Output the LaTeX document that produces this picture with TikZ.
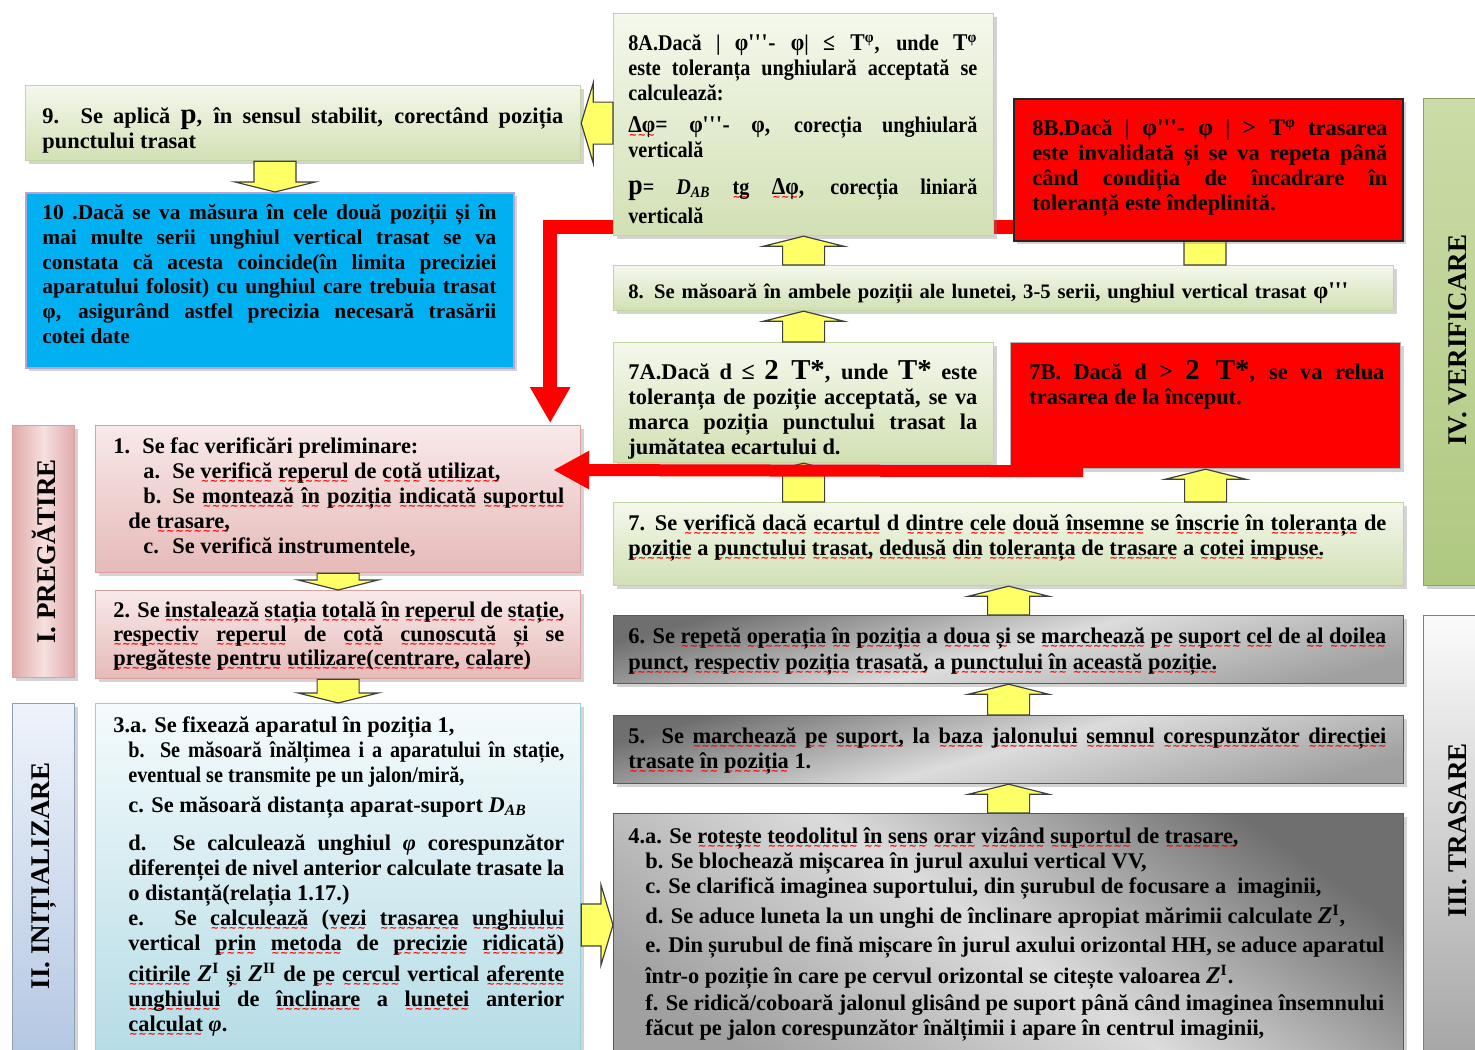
\documentclass[tikz,border=0pt]{standalone}
\usepackage{fontspec}
\setmainfont{Liberation Serif}
\newfontfamily\condf{Liberation Serif}[FakeStretch=0.9]
\newfontfamily\wavef{DejaVu Sans}
\usetikzlibrary{shadows,calc,arrows.meta}

% palette
\definecolor{grnT}{HTML}{F4F8EC}
\definecolor{grnB}{HTML}{D2E0B4}
\definecolor{grnD}{HTML}{C2D5A0}
\definecolor{pnkT}{HTML}{F8E9E9}
\definecolor{pnkB}{HTML}{E6BAB9}
\definecolor{pnkD}{HTML}{D9A2A1}
\definecolor{bluT}{HTML}{F5FBFC}
\definecolor{bluB}{HTML}{B3DBE5}
\definecolor{bluD}{HTML}{9ACEDB}
\definecolor{skyb}{HTML}{00B0F0}
\definecolor{lavd}{HTML}{B4A6D0}
\definecolor{yelw}{HTML}{FFFF66}
\definecolor{gryD}{HTML}{6F6F6F}
\definecolor{gryM}{HTML}{A0A0A0}
\definecolor{gryL}{HTML}{DCDCDC}
\definecolor{labIo}{HTML}{E0AAA9}
\definecolor{labIi}{HTML}{F6E0DF}
\definecolor{labIIt}{HTML}{EEF3FA}
\definecolor{labIIb}{HTML}{B2C6E2}
\definecolor{labIIIt}{HTML}{FBFBFB}
\definecolor{labIIIb}{HTML}{A2A2A2}
\definecolor{labIVt}{HTML}{CBDCA8}
\definecolor{labIVb}{HTML}{AFC880}

\pgfdeclareverticalshading{grayband}{100bp}{color(0bp)=(gryM); color(25bp)=(gryM); color(50bp)=(gryL); color(75bp)=(gryD); color(100bp)=(gryD)}

\pgfdeclarelayer{back}
\pgfsetlayers{back,main}

% red wavy underline under one word
\newsavebox\sqbox
\newcommand\sq[1]{\leavevmode\sbox\sqbox{#1}%
  \rlap{\lower2.8pt\hbox to\wd\sqbox{\color{red}\fontsize{5}{5}\wavef\xleaders\hbox{\char"223C}\hfil}}%
  \usebox\sqbox}
\newcommand\tp{\textquotesingle\textquotesingle\textquotesingle}
\newcommand\fl{\rule{0pt}{10pt}}
\newcommand\Zsup[1]{{\large\itshape Z}\textsuperscript{#1}}
\newcommand\DAB{{\itshape D}\textsubscript{\itshape AB}}

\tikzset{
  txt/.style={inner sep=0pt, anchor=north west, align=justify,
    font=\bfseries\fontsize{11.2}{12.5}\selectfont},
  box/.style={draw, line width=0.6pt, anchor=north west, inner sep=0pt,
    drop shadow={shadow xshift=1.6pt, shadow yshift=-1.6pt, opacity=0.35}},
  greenbox/.style={box, draw=grnD, top color=grnT, bottom color=grnB},
  pinkbox/.style={box, draw=pnkD, top color=pnkT, bottom color=pnkB},
  bluebox/.style={box, draw=bluD, top color=bluT, bottom color=bluB},
  graybox/.style={box, draw=gray!70!black, shading=grayband},
  redbox/.style={box, fill=red},
  labtxt/.style={rotate=90, inner sep=0pt, font=\bfseries\fontsize{13.5}{15}\selectfont},
  yblock/.style={fill=yelw, draw=black!75, line width=0.6pt, line join=miter},
  redline/.style={draw=red, line width=7pt, line join=miter,
    -{Triangle[length=18pt,width=19pt]}},
}

% vertical block arrow: base point, tip point
\newcommand\yav[2]{%
  \path[yblock] let \p1=#1, \p2=#2, \n1={ifthenelse(\y2>\y1,1,-1)} in
    (\x1-10.5pt,\y1) -- (\x1-10.5pt,\y2-\n1*5pt) -- (\x1-20pt,\y2-\n1*5pt)
    -- (\x1,\y2) -- (\x1+20pt,\y2-\n1*5pt) -- (\x1+10.5pt,\y2-\n1*5pt)
    -- (\x1+10.5pt,\y1) -- cycle;}
% horizontal block arrow: base point, tip point
\newcommand\yah[2]{%
  \path[yblock] let \p1=#1, \p2=#2, \n1={ifthenelse(\x2>\x1,1,-1)} in
    (\x1,\y1-10.5pt) -- (\x2-\n1*6pt,\y1-10.5pt) -- (\x2-\n1*6pt,\y1-20pt)
    -- (\x2,\y1) -- (\x2-\n1*6pt,\y1+20pt) -- (\x2-\n1*6pt,\y1+10.5pt)
    -- (\x1,\y1+10.5pt) -- cycle;}

\begin{document}
\begin{tikzpicture}[x=0.5pt,y=-0.5pt]
\useasboundingbox (0,0) rectangle (1475,1049);
\clip (0,0) rectangle (1475,1049);

% ---------- phase labels ----------
\node[box, draw=pnkD, left color=labIo, right color=labIo, middle color=labIi,
      minimum width=31pt, minimum height=126pt] (lab1) at (12,425) {};
\node[labtxt] (lab1t) at (lab1.center) {I. PREGĂTIRE};
\node[box, draw=labIIb!80!black, top color=labIIt, bottom color=labIIb,
      minimum width=31pt, minimum height=180pt] (lab2) at (12,703) {};
\node[labtxt] (lab2t) at ($(lab2.north)+(0,173)$) {II. INIȚIALIZARE};
\node[box, draw=labIVb!80!black, top color=labIVt, bottom color=labIVb,
      minimum width=30pt, minimum height=243.5pt] (lab4) at (1423,98) {};
\node[labtxt] (lab4t) at ($(lab4.north)+(4,242)$) {IV. VERIFICARE};
\node[box, draw=gray, top color=labIIIt, bottom color=labIIIb,
      minimum width=30pt, minimum height=230pt] (lab3) at (1423,615) {};
\node[labtxt] (lab3t) at ($(lab3.north)+(4,215)$) {III. TRASARE};

% ---------- left column ----------
\node[greenbox, minimum width=277.5pt, minimum height=37.5pt] (b9) at (25,85) {};
\node[txt, text width=260.5pt] (t9) at (42,103) {\fl 9. Se aplică {\Large p}, în sensul stabilit, corectând poziția\linebreak punctului trasat};

\node[box, fill=skyb, draw=lavd, line width=1pt, minimum width=244pt, minimum height=87.5pt] (b10) at (25,192) {};
\node[txt, text width=227pt, font=\bfseries\fontsize{10.7}{12.4}\selectfont] (t10) at (42,199) {\fl 10 .Dacă se va măsura în cele două poziții și în\linebreak mai multe serii unghiul vertical trasat se va\linebreak constata că acesta coincide(în limita preciziei\linebreak aparatului folosit) cu unghiul care trebuia trasat\linebreak φ, asigurând astfel precizia necesară trasării\linebreak cotei date};

\node[pinkbox, minimum width=242.5pt, minimum height=73.5pt] (b1) at (95,425) {};
\node[txt, text width=225.5pt] (t1) at (113,433) {\fl\makebox[14.5pt][l]{1.}Se fac verificări preliminare:\par
\hspace*{15pt}\makebox[14.5pt][l]{a.}Se \sq{verifică} \sq{reperul} de \sq{cotă} \sq{utilizat,}\par
{\leftskip=7.5pt\hspace*{7.5pt}\makebox[14.5pt][l]{b.}Se \sq{montează} \sq{în} \sq{poziția} \sq{indicată} \sq{suportul}\linebreak de \sq{trasare,}\par}
\hspace*{15pt}\makebox[14.5pt][l]{c.}Se verifică instrumentele,};

\node[pinkbox, minimum width=242.5pt, minimum height=44pt] (b2) at (95,590) {};
\node[txt, text width=225.5pt, font=\bfseries\fontsize{11.2}{12}\selectfont] (t2) at (113,597) {\fl 2. Se \sq{instalează} \sq{stația} \sq{totală} \sq{în} \sq{reperul} de \sq{stație,}\linebreak \sq{respectiv} \sq{reperul} de \sq{cotă} \sq{cunoscută} \sq{și} se\linebreak \sq{pregăteste} \sq{pentru} \sq{utilizare(centrare,} \sq{calare)}};

\node[bluebox, minimum width=242.5pt, minimum height=180pt] (b3) at (95,703) {};
\node[txt, text width=225.5pt] (t3) at (113,712) {\fl 3.a. Se fixează aparatul în poziția 1,\par
{\leftskip=7.5pt
{\condf b. Se măsoară înălțimea i a aparatului în stație,\linebreak eventual se transmite pe un jalon/miră,\par}
\vspace{2.5pt}c. Se măsoară distanța aparat-suport \DAB\par
\vspace{6.5pt}d. Se calculează unghiul {\itshape φ} corespunzător\linebreak diferenței de nivel anterior calculate trasate la\linebreak o distanță(relația 1.17.)\par
e. Se \sq{calculează} (\sq{vezi} \sq{trasarea} \sq{unghiului}\linebreak vertical \sq{prin} \sq{metoda} de \sq{precizie} \sq{ridicată)}\vadjust{\kern3pt}\linebreak \sq{citirile} \Zsup{I} \sq{și} \Zsup{II} de \sq{pe} \sq{cercul} vertical \sq{aferente}\linebreak \sq{unghiului} de \sq{înclinare} a \sq{lunetei} anterior\linebreak \sq{calculat} {\itshape φ}.\par}};

% ---------- right column ----------
\node[redbox, draw=black!30, minimum width=195pt, minimum height=63pt] (b7B) at (1010,342) {};
\node[txt, text width=177.5pt] (t7B) at (1029,358) {\rule{0pt}{10.5pt}7B. Dacă d {\large >} {\Large 2 T*}, se va relua\linebreak trasarea de la început.};

\node[greenbox, minimum width=190pt, minimum height=60pt] (b7A) at (613,342) {};
\node[txt, text width=174.5pt] (t7A) at (628,358) {\rule{0pt}{10.5pt}7A.Dacă d {\large ≤} {\Large 2 T*}, unde {\Large T*} este\linebreak toleranța de poziție acceptată, se va\linebreak marca poziția punctului trasat la\linebreak jumătatea ecartului d.};

\node[greenbox, minimum width=390pt, minimum height=22.5pt] (b8) at (613,265) {};
\node[txt, align=left, text width=375pt, font=\bfseries\fontsize{10.3}{12.5}\selectfont] (t8) at (628,278) {\fl 8. Se măsoară în ambele poziții ale lunetei, 3-5 serii, unghiul vertical trasat {\large φ\tp}};

\node[greenbox, minimum width=395pt, minimum height=41.5pt] (b7) at (613,502) {};
\node[txt, text width=379pt] (t7) at (628,510) {\fl 7. Se \sq{verifică} \sq{dacă} \sq{ecartul} d \sq{dintre} \sq{cele} \sq{două} \sq{însemne} se \sq{înscrie} în \sq{toleranța} de\linebreak \sq{poziție} a \sq{punctului} \sq{trasat,} \sq{dedusă} \sq{din} \sq{toleranța} de \sq{trasare} a \sq{cotei} \sq{impuse.}};

\node[graybox, shading angle=15, minimum width=395pt, minimum height=34pt] (b6) at (613,615) {};
\node[txt, text width=379pt, font=\bfseries\fontsize{11.2}{13.2}\selectfont] (t6) at (628,623) {\fl 6. Se \sq{repetă} \sq{operația} \sq{în} \sq{poziția} a \sq{doua} \sq{și} se \sq{marchează} \sq{pe} \sq{suport} \sq{cel} de \sq{al} \sq{doilea}\linebreak \sq{punct,} \sq{respectiv} \sq{poziția} \sq{trasată,} a \sq{punctului} \sq{în} \sq{această} \sq{poziție.}};

\node[graybox, shading angle=15, minimum width=395pt, minimum height=34pt] (b5) at (613,715) {};
\node[txt, text width=379pt] (t5) at (628,723) {\fl 5. Se \sq{marchează} \sq{pe} \sq{suport,} la \sq{baza} \sq{jalonului} \sq{semnul} \sq{corespunzător} \sq{direcției}\linebreak \sq{trasate} \sq{în} \sq{poziția} 1.};

\node[graybox, shading angle=-35, minimum width=395pt, minimum height=130pt] (b4) at (613,813) {};
\node[txt, text width=378pt] (t4) at (628,823) {\fl 4.a. Se \sq{rotește} \sq{teodolitul} \sq{în} \sq{sens} \sq{orar} \sq{vizând} \sq{suportul} de \sq{trasare,}\par
{\leftskip=8.5pt
b. Se blochează mișcarea în jurul axului vertical VV,\par
c. Se clarifică imaginea suportului, din șurubul de focusare a\ \ imaginii,\par
\vspace{2.5pt}d. Se aduce luneta la un unghi de înclinare apropiat mărimii calculate \Zsup{I},\par
\vspace{2pt}e. Din șurubul de fină mișcare în jurul axului orizontal HH, se aduce aparatul\vadjust{\kern3pt}\linebreak într-o poziție în care pe cervul orizontal se citește valoarea \Zsup{I}.\par
\vspace{1pt}f. Se ridică/coboară jalonul glisând pe suport până când imaginea însemnului\linebreak făcut pe jalon corespunzător înălțimii i apare în centrul imaginii,\par}};

% yellow shaft under 8B, then 8B itself
\yav{(b8.north -| 1205,0)}{(1205,200)}
\node[redbox, draw=black!85, line width=1pt, minimum width=194.5pt, minimum height=71pt] (b8B) at (1013,98) {};
\node[txt, text width=177.5pt] (t8B) at (1032,113) {\rule{0pt}{11pt}8B.Dacă | {\large φ\tp- φ} | {\large > T}\textsuperscript{φ} trasarea\linebreak este invalidată și se va repeta până\linebreak când condiția de încadrare în\linebreak toleranță este îndeplinită.};

% ---------- flow arrows ----------
\yav{($(b9.south west)+(250,0)$)}{($(b10.north west)+(250,0)$)}
\yav{(b1.south)}{(b2.north)}
\yav{(b2.south)}{(b3.north)}
\coordinate (c34) at ($(b3.north east)+(0,222)$);
\yah{(c34)}{(b4.west |- c34)}
\yav{(b4.north)}{(b5.south)}
\yav{(b5.north)}{(b6.south)}
\yav{(b6.north)}{(b7.south)}
\yav{(b7.north -| b7A.south)}{(b7A.south)}
\yav{(b7.north -| b7B.south)}{(b7B.south)}
\yav{(b7A.north)}{(b8.south -| b7A.north)}

% red return path to step 1 (runs behind 8A)
\draw[redline] ($(b8B.south west)+(0,-15)$) -| ($(b1.north east)+(-31,-2)$);
% red return path from 7B to step 1
\draw[redline, line width=6pt, -{Triangle[length=18pt,width=18pt]}]
  ($(b7B.south west)+(73,2)$) -- ($(b1.north east)+(-28,45)$);

% ---------- box 8A ----------
\node[greenbox, minimum width=190pt, minimum height=111pt] (b8A) at (613,13) {};
\node[txt, text width=174.5pt, font=\condf\bfseries\fontsize{11.2}{12.5}\selectfont] (t8A) at (628,28) {\rule{0pt}{11pt}8A.Dacă | {\large φ\tp- φ}| {\large ≤ T}\textsuperscript{φ}, unde {\large T}\textsuperscript{φ}\linebreak este toleranța unghiulară acceptată se\linebreak calculează:\par
\vspace{3.5pt}{\large\sq{Δφ}= φ\tp- φ,} corecția unghiulară\linebreak verticală\par
\vspace{4pt}{\baselineskip=14.5pt {\Large p}= \DAB\ \sq{tg}\quad {\large\sq{Δφ},} corecția liniară\linebreak verticală\par}};

\yav{(b8.north -| b8A.south)}{(b8A.south)}
\yah{(b8A.west |- b9.east)}{(b9.east)}
\end{tikzpicture}
\end{document}
